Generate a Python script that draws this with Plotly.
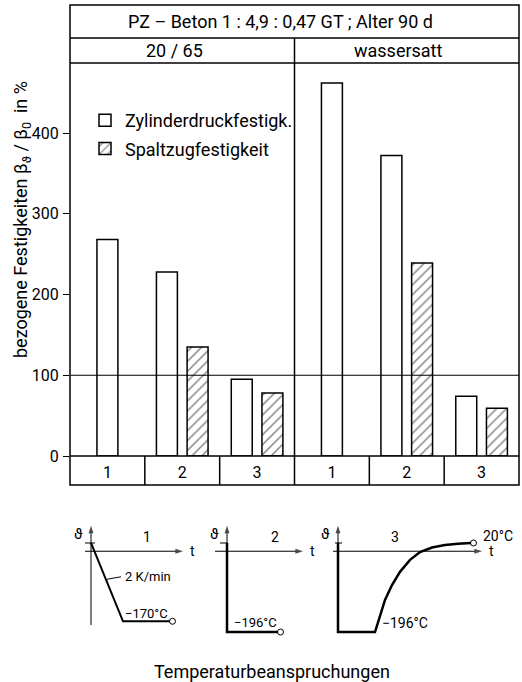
import plotly.graph_objects as go

W, H = 522, 682
FONT = "Roboto"

# ---------------- data ----------------
title_text = "PZ – Beton 1 : 4,9 : 0,47 GT ; Alter 90 d"
conditions = ["20 / 65", "wassersatt"]
categories = ["1", "2", "3", "1", "2", "3"]
zylinder = [268, 228, 95, 462, 372, 74]
spaltzug = [None, 135, 78, None, 239, 59]
y_ticks = [0, 100, 200, 300, 400]
ref_level = 100
series_names = ["Zylinderdruckfestigk.", "Spaltzugfestigkeit"]

# temperature schedules (schematic): time in arbitrary units, temperature in °C
t1 = [0, 3.2, 7.9]
T1 = [20, -170, -170]
t2 = [0, 0, 5.1]
T2 = [20, -196, -196]
t3 = [0, 0, 3.7, 4.2, 4.7, 5.4, 6.2, 7.2, 8.2, 9.4, 10.7, 12.0, 13.3]
T3 = [20, -196, -196, -155, -118, -82, -50, -21, -2, 9, 15, 18, 20]
sched_names = ["1", "2", "3"]
sched_labels = ["−170°C", "−196°C", "−196°C"]


def px(x):
    return x / W


def py(y):
    return 1 - y / H


fig = go.Figure()

# ---------------- bars ----------------
half = 0.205
bw = 0.28
xz, xs, ys = [], [], []
for i, (z, s) in enumerate(zip(zylinder, spaltzug)):
    c = i + 0.5
    if s is None:
        xz.append(c)
    else:
        xz.append(c - half)
        xs.append(c + half)
        ys.append(s)

fig.add_trace(go.Bar(
    x=xz, y=zylinder, width=bw, name=series_names[0],
    marker=dict(color="white", line=dict(color="black", width=1.5)),
    legendgroup="a", xaxis="x", yaxis="y"))
fig.add_trace(go.Bar(
    x=xs, y=ys, width=bw, name=series_names[1],
    marker=dict(color="white", line=dict(color="black", width=1.5),
                pattern=dict(shape="/", fgcolor="black", bgcolor="white",
                             size=7, solidity=0.2)),
    legendgroup="b", xaxis="x", yaxis="y"))

# ---------------- temperature schematics ----------------
sched = [(t1, T1, "x2", "y2"), (t2, T2, "x3", "y3"), (t3, T3, "x4", "y4")]
for (tt, TT, xa, ya), w in zip(sched, [2, 2.5, 2.5]):
    fig.add_trace(go.Scatter(x=tt, y=TT, mode="lines", xaxis=xa, yaxis=ya,
                             line=dict(color="black", width=w),
                             showlegend=False, hoverinfo="skip"))
    fig.add_trace(go.Scatter(x=[tt[-1] + 0.25], y=[TT[-1]], mode="markers",
                             xaxis=xa, yaxis=ya,
                             marker=dict(symbol="circle-open", size=6,
                                         color="black", line=dict(width=1)),
                             showlegend=False, hoverinfo="skip"))

# schematic axes: (xa, ya, theta-axis bottom, t-axis start, t-axis end, tick span)
ax_spec = [("x2", "y2", -179, -0.6, 9.2, (-0.6, 0.4)),
           ("x3", "y3", -196, -1.2, 7.6, (-0.7, 0.1)),
           ("x4", "y4", -196, -0.5, 14.4, (-0.3, 0.4))]
theta_top = 62
arrow_marker = dict(symbol=["line-ew", "arrow"], size=[0, 8], angleref="previous",
                    color="black", line=dict(width=0))
for xa, ya, yb, ts, te, _ in ax_spec:
    fig.add_trace(go.Scatter(x=[0, 0], y=[yb, theta_top], mode="lines+markers",
                             xaxis=xa, yaxis=ya, line=dict(color="black", width=1),
                             marker=arrow_marker, showlegend=False,
                             hoverinfo="skip"))
    fig.add_trace(go.Scatter(x=[ts, te], y=[0, 0], mode="lines+markers",
                             xaxis=xa, yaxis=ya, line=dict(color="black", width=1),
                             marker=arrow_marker, showlegend=False,
                             hoverinfo="skip"))

# ---------------- layout ----------------
ydom = [py(640), py(520)]
yr = [-215.4, 75.8]
layout = dict(
    width=W, height=H,
    margin=dict(l=0, r=0, t=0, b=0, autoexpand=False),
    paper_bgcolor="white", plot_bgcolor="white",
    font=dict(family=FONT, color="black", size=14),
    barmode="overlay",
    xaxis=dict(domain=[px(70), px(519)], range=[0, 6],
               tickvals=[i + 0.5 for i in range(6)], ticktext=categories,
               ticks="", showgrid=False, zeroline=False, showline=False,
               tickfont=dict(size=16), ticklabelstandoff=5),
    yaxis=dict(domain=[py(456), py(63)], range=[0, 486.7],
               tickvals=y_ticks, ticks="outside", ticklen=6, tickwidth=1.2,
               tickcolor="black", showgrid=False, zeroline=False,
               showline=False, tickfont=dict(size=16), ticklabelstandoff=1),
    xaxis2=dict(domain=[px(75), px(195)], range=[-1.6, 10.4], visible=False),
    yaxis2=dict(domain=ydom, range=yr, visible=False, anchor="x2"),
    xaxis3=dict(domain=[px(205), px(315)], range=[-2.2, 8.8], visible=False),
    yaxis3=dict(domain=ydom, range=yr, visible=False, anchor="x3"),
    xaxis4=dict(domain=[px(318), px(518)], range=[-2.0, 18.0], visible=False),
    yaxis4=dict(domain=ydom, range=yr, visible=False, anchor="x4"),
    legend=dict(x=px(85), y=py(102), xanchor="left", yanchor="top",
                bgcolor="rgba(0,0,0,0)", font=dict(size=18),
                traceorder="grouped", tracegroupgap=2),
    showlegend=True,
)
fig.update_layout(**layout)

shapes = []
L = dict(color="black", width=1.5)
# table frame
shapes.append(dict(type="rect", xref="paper", yref="paper",
                   x0=px(70), x1=px(519), y0=py(485), y1=py(5), line=L))
for yy in [38, 63, 456]:
    shapes.append(dict(type="line", xref="paper", yref="paper",
                       x0=px(70), x1=px(519), y0=py(yy), y1=py(yy), line=L))
shapes.append(dict(type="line", xref="x", yref="paper", x0=3, x1=3,
                   y0=py(485), y1=py(38), line=L))
for xx in [1, 2, 4, 5]:
    shapes.append(dict(type="line", xref="x", yref="paper", x0=xx, x1=xx,
                       y0=py(485), y1=py(456), line=L))
shapes.append(dict(type="line", xref="x", yref="y", x0=0, x1=6,
                   y0=ref_level, y1=ref_level, line=dict(color="black", width=1)))

C = dict(showarrow=False, xanchor="center", yanchor="middle")
ann = []
ann.append(dict(text=title_text, xref="x", yref="paper", x=3, y=py(21.5),
                font=dict(size=18), xshift=-14, **C))
for k, c in enumerate(conditions):
    ann.append(dict(text=c, xref="x", yref="paper", x=1.5 + 3 * k, y=py(50.5),
                    font=dict(size=18), xshift=-8, **C))
ann.append(dict(text="bezogene Festigkeiten β<sub>ϑ</sub> / β<sub>0</sub>  in %",
                xref="paper", yref="paper", x=px(22), y=py(220),
                textangle=-90, font=dict(size=18), **C))

for xa, ya, yb, ts, te, (k0, k1) in ax_spec:
    ann.append(dict(x=te + 0.5, y=0, xref=xa, yref=ya, text="t",
                    showarrow=False, xanchor="left", yanchor="middle",
                    font=dict(size=14)))
    ann.append(dict(x=-0.6, y=42, xref=xa, yref=ya, text="ϑ",
                    showarrow=False, xanchor="right", yanchor="middle",
                    font=dict(size=15)))
    shapes.append(dict(type="line", xref=xa, yref=ya, x0=k0, x1=k1,
                       y0=20, y1=20, line=dict(color="black", width=1)))

for xa, ya, xpos, nm in [("x2", "y2", 5.6, sched_names[0]),
                         ("x3", "y3", 4.8, sched_names[1]),
                         ("x4", "y4", 5.7, sched_names[2])]:
    ann.append(dict(x=xpos, y=35, xref=xa, yref=ya, text=nm,
                    font=dict(size=14), **C))
ann.append(dict(x=3.2, y=-62, xref="x2", yref="y2", text="2 K/min",
                showarrow=False, xanchor="left", yanchor="middle",
                font=dict(size=13)))
shapes.append(dict(type="line", xref="x2", yref="y2", x0=1.6, x1=3.0,
                   y0=-68, y1=-62, line=dict(color="black", width=1)))
ann.append(dict(x=3.2, y=-150, xref="x2", yref="y2", text=sched_labels[0],
                showarrow=False, xanchor="left", yanchor="middle",
                font=dict(size=13)))
ann.append(dict(x=0.5, y=-174, xref="x3", yref="y3", text=sched_labels[1],
                showarrow=False, xanchor="left", yanchor="middle",
                font=dict(size=13)))
ann.append(dict(x=4.2, y=-174, xref="x4", yref="y4", text=sched_labels[2],
                showarrow=False, xanchor="left", yanchor="middle",
                font=dict(size=14)))
ann.append(dict(x=14.3, y=38, xref="x4", yref="y4", text="20°C",
                showarrow=False, xanchor="left", yanchor="middle",
                font=dict(size=14)))

ann.append(dict(text="Temperaturbeanspruchungen", xref="paper", yref="paper",
                x=px(272), y=py(671), font=dict(size=18), **C))

fig.update_layout(shapes=shapes, annotations=ann)
fig.write_html("out.html")
